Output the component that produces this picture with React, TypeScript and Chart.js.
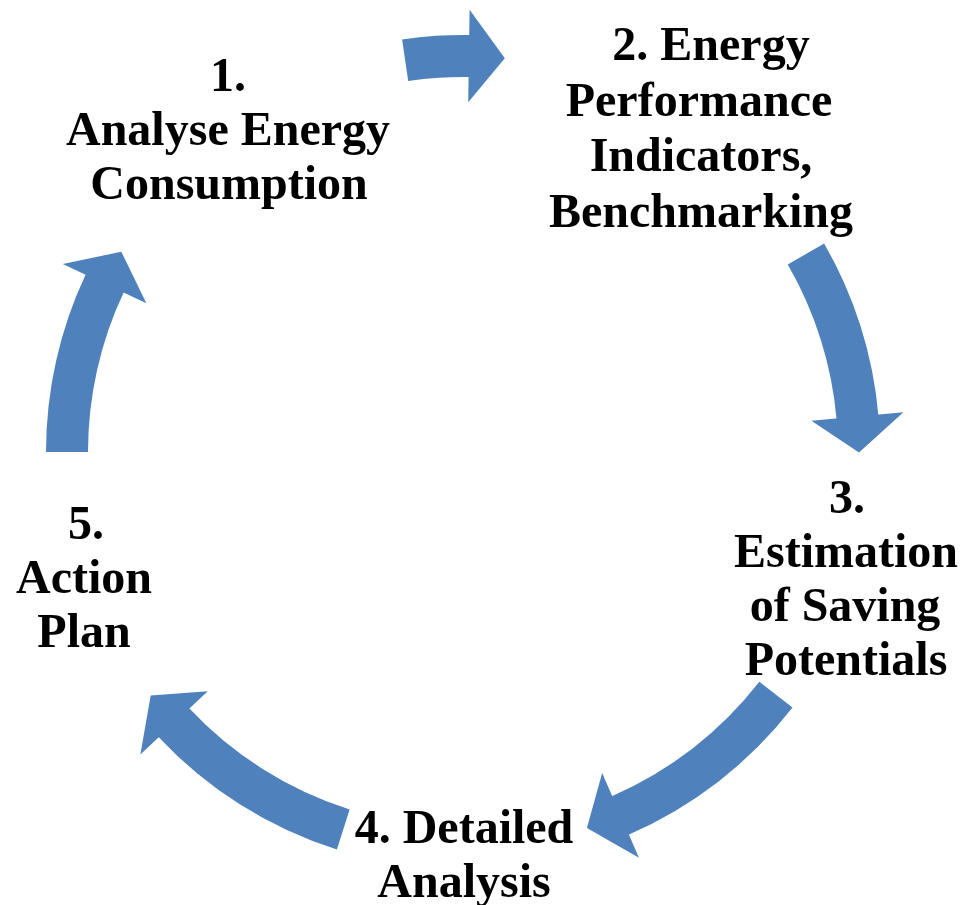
import React, { useEffect, useRef } from "react";
import { Chart, registerables } from "chart.js";

Chart.register(...registerables);

// Steps of the cycle (categories)
const stepNames = [
  "Analyse Energy Consumption",
  "Energy Performance Indicators, Benchmarking",
  "Estimation of Saving Potentials",
  "Detailed Analysis",
  "Action Plan",
];

// Angular span (degrees) of each arrow body, clockwise from its start
const arrowSpans = [9.4, 25, 28.9, 29.4, 25.3];
// Angular span (degrees) of the gap after each arrow body (holds the arrow head and the label)
const gapSpans = [59, 42.8, 40.9, 43, 56.3];
// Angle (degrees, clockwise from 12 o'clock) where the first arrow starts
const startRotation = -8.4;

// Label text, one line per entry
const label1 = ["1.", "Analyse Energy", "Consumption"];
const label2 = ["2. Energy", "Performance", "Indicators,", "Benchmarking"];
const label3 = ["3.", "Estimation", "of Saving", "Potentials"];
const label4 = ["4. Detailed", "Analysis"];
const label5 = ["5.", "Action", "Plan"];

// Layout for labels (pixel placement, kept separate from data)
const labelLayout = [
  { lines: label1, x: [228, 228, 229], y: 91, lh: 54 },
  { lines: label2, x: [711, 699, 701, 701], y: 60, lh: 55.5 },
  { lines: label3, x: [847, 846, 845, 846], y: 513, lh: 54 },
  { lines: label4, x: [464, 464], y: 843, lh: 54 },
  { lines: label5, x: [86, 84, 84], y: 539, lh: 54 },
];

const ARROW_COLOR = "#4F81BD";
const FONT = 'bold 48px "Times New Roman", "Liberation Serif", serif';

export default function App() {
  const canvasRef = useRef<HTMLCanvasElement | null>(null);

  useEffect(() => {
    const canvas = canvasRef.current;
    if (!canvas) return;

    const data: number[] = [];
    const colors: string[] = [];
    const labels: string[] = [];
    arrowSpans.forEach((span, i) => {
      data.push(span);
      colors.push(ARROW_COLOR);
      labels.push(stepNames[i]);
      data.push(gapSpans[i]);
      colors.push("rgba(0,0,0,0)");
      labels.push("");
    });

    const arrowHeads = {
      id: "arrowHeads",
      afterDatasetsDraw(chart: any) {
        const meta = chart.getDatasetMeta(0);
        const ctx = chart.ctx as CanvasRenderingContext2D;
        ctx.save();
        ctx.fillStyle = ARROW_COLOR;
        meta.data.forEach((arc: any, i: number) => {
          if (i % 2 !== 0) return;
          const p = arc.getProps(["x", "y", "endAngle", "innerRadius", "outerRadius"], true);
          const rMid = (p.innerRadius + p.outerRadius) / 2;
          const half = ((p.outerRadius - p.innerRadius) / 2) * 2.2;
          const baseA = p.endAngle - 1 / rMid;
          const tipA = p.endAngle + 35 / rMid;
          ctx.beginPath();
          ctx.moveTo(p.x + (rMid + half) * Math.cos(baseA), p.y + (rMid + half) * Math.sin(baseA));
          ctx.lineTo(p.x + rMid * Math.cos(tipA), p.y + rMid * Math.sin(tipA));
          ctx.lineTo(p.x + (rMid - half) * Math.cos(baseA), p.y + (rMid - half) * Math.sin(baseA));
          ctx.closePath();
          ctx.fill();
        });
        ctx.restore();
      },
    };

    const stepLabels = {
      id: "stepLabels",
      afterDraw(chart: any) {
        const ctx = chart.ctx as CanvasRenderingContext2D;
        ctx.save();
        ctx.fillStyle = "#000000";
        ctx.font = FONT;
        ctx.textAlign = "center";
        ctx.textBaseline = "alphabetic";
        labelLayout.forEach((lab) => {
          lab.lines.forEach((line, j) => {
            ctx.fillText(line, lab.x[j], Math.round(lab.y + j * lab.lh));
          });
        });
        ctx.restore();
      },
    };

    const chart = new Chart(canvas, {
      type: "doughnut",
      data: {
        labels,
        datasets: [
          {
            data,
            backgroundColor: colors,
            hoverBackgroundColor: colors,
            borderWidth: 0,
            hoverBorderWidth: 0,
            hoverOffset: 0,
          },
        ],
      },
      options: {
        animation: false,
        responsive: true,
        maintainAspectRatio: false,
        rotation: startRotation,
        cutout: `${(375 / 417) * 100}%`,
        events: [],
        layout: { padding: { left: 46, right: 81, top: 35, bottom: 36 } },
        plugins: {
          legend: { display: false },
          tooltip: { enabled: false },
          title: { display: false },
        },
      },
      plugins: [arrowHeads, stepLabels],
    });

    return () => chart.destroy();
  }, []);

  return (
    <div style={{ position: "absolute", left: 0, top: 0, width: 961, height: 905, background: "#ffffff" }}>
      <canvas ref={canvasRef} />
    </div>
  );
}
